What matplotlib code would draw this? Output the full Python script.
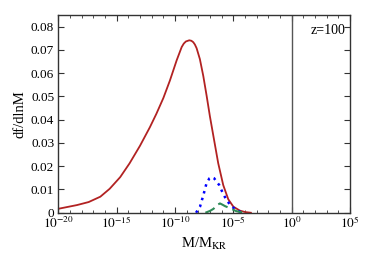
import numpy as np
import matplotlib
matplotlib.use('Agg')
import matplotlib.pyplot as plt
from matplotlib.ticker import FixedLocator, NullFormatter

plt.rcParams['font.family'] = ['Liberation Serif', 'DejaVu Serif']
plt.rcParams['mathtext.fontset'] = 'stix'

# log10(M/M_KR) and df/dlnM
red_logm = [-20, -19.2, -18.4, -17.4, -16.4, -15.6, -14.7, -13.9, -13.0, -12.15,
            -11.6, -11.0, -10.44, -9.86, -9.43, -9.25, -9.07, -8.78, -8.6, -8.44,
            -8.3, -8.15, -7.87, -7.58, -7.29, -7.01, -6.7, -6.3, -5.87, -5.44,
            -5.0, -4.44, -4.0, -3.5]
red_val = [0.0017, 0.0025, 0.0033, 0.0046, 0.0069, 0.0103, 0.0153, 0.0212, 0.0288, 0.0368,
           0.0425, 0.0493, 0.0568, 0.0655, 0.0712, 0.0727, 0.0736, 0.0741, 0.0739, 0.0733,
           0.0723, 0.0707, 0.0660, 0.0588, 0.0502, 0.0414, 0.0326, 0.0213, 0.0119, 0.0058,
           0.0026, 0.0009, 0.0003, 0.0]

blue_logm = [-8.2, -7.86, -7.57, -7.3, -7.05, -6.87, -6.65, -6.44, -6.2, -6.0,
             -5.6, -5.2, -4.8, -4.4, -4.0]
blue_val = [0.0, 0.0026, 0.0076, 0.0127, 0.0148, 0.0153, 0.0148, 0.0134, 0.0118, 0.0095,
            0.0055, 0.0030, 0.0013, 0.0004, 0.0]

green_logm = [-7.4, -7.0, -6.7, -6.4, -6.15, -5.95, -5.7, -5.3, -4.76, -4.3, -4.0]
green_val = [0.0, 0.0008, 0.0017, 0.0033, 0.0040, 0.0035, 0.0028, 0.0020, 0.0007, 0.0002, 0.0]

yticks = [0, 0.01, 0.02, 0.03, 0.04, 0.05, 0.06, 0.07, 0.08]
ytick_labels = ['0', '0.01', '0.02', '0.03', '0.04', '0.05', '0.06', '0.07', '0.08']
xmajor_exp = [-20, -15, -10, -5, 0, 5]

fig = plt.figure(figsize=(3.74, 2.62), dpi=100)
ax = fig.add_axes([0.156, 0.188, 0.78, 0.755])

ax.plot(10.0 ** np.array(red_logm), red_val, color='#b22222', lw=1.3)
ax.plot(10.0 ** np.array(blue_logm), blue_val, color='blue', lw=1.8, ls=(0, (1, 1.8)))
ax.plot(10.0 ** np.array(green_logm), green_val, color='#2e8b57', lw=1.5, ls=(0, (5, 2.5)))
ax.axvline(1.0, color='#555555', lw=1.0)

ax.set_xscale('log')
ax.set_xlim(1e-20, 1e5)
ax.set_ylim(0, 0.085)

ax.xaxis.set_major_locator(FixedLocator([10.0 ** e for e in xmajor_exp]))
ax.set_xticklabels(['$10^{%d}$' % e for e in xmajor_exp])
ax.xaxis.set_minor_locator(FixedLocator([10.0 ** e for e in range(-20, 6)]))
ax.xaxis.set_minor_formatter(NullFormatter())
ax.set_yticks(yticks)
ax.set_yticklabels(ytick_labels)

ax.tick_params(which='both', direction='in', top=True, right=True, labelsize=9.5, colors='#333333',
               labelcolor='black')
ax.tick_params(which='major', length=4, width=0.8, pad=2)
ax.tick_params(axis='y', which='major', pad=3)
ax.tick_params(which='minor', length=2, width=0.6)
for s in ax.spines.values():
    s.set_color('#333333')
    s.set_linewidth(1.0)

ax.set_xlabel('M/M$_{\\mathrm{KR}}$', fontsize=10.5, labelpad=3)
ax.set_ylabel('df/dlnM', fontsize=10.5, labelpad=3)
ax.text(0.985, 0.955, 'z=100', transform=ax.transAxes, ha='right', va='top', fontsize=10)

fig.savefig('out.png', dpi=100)
